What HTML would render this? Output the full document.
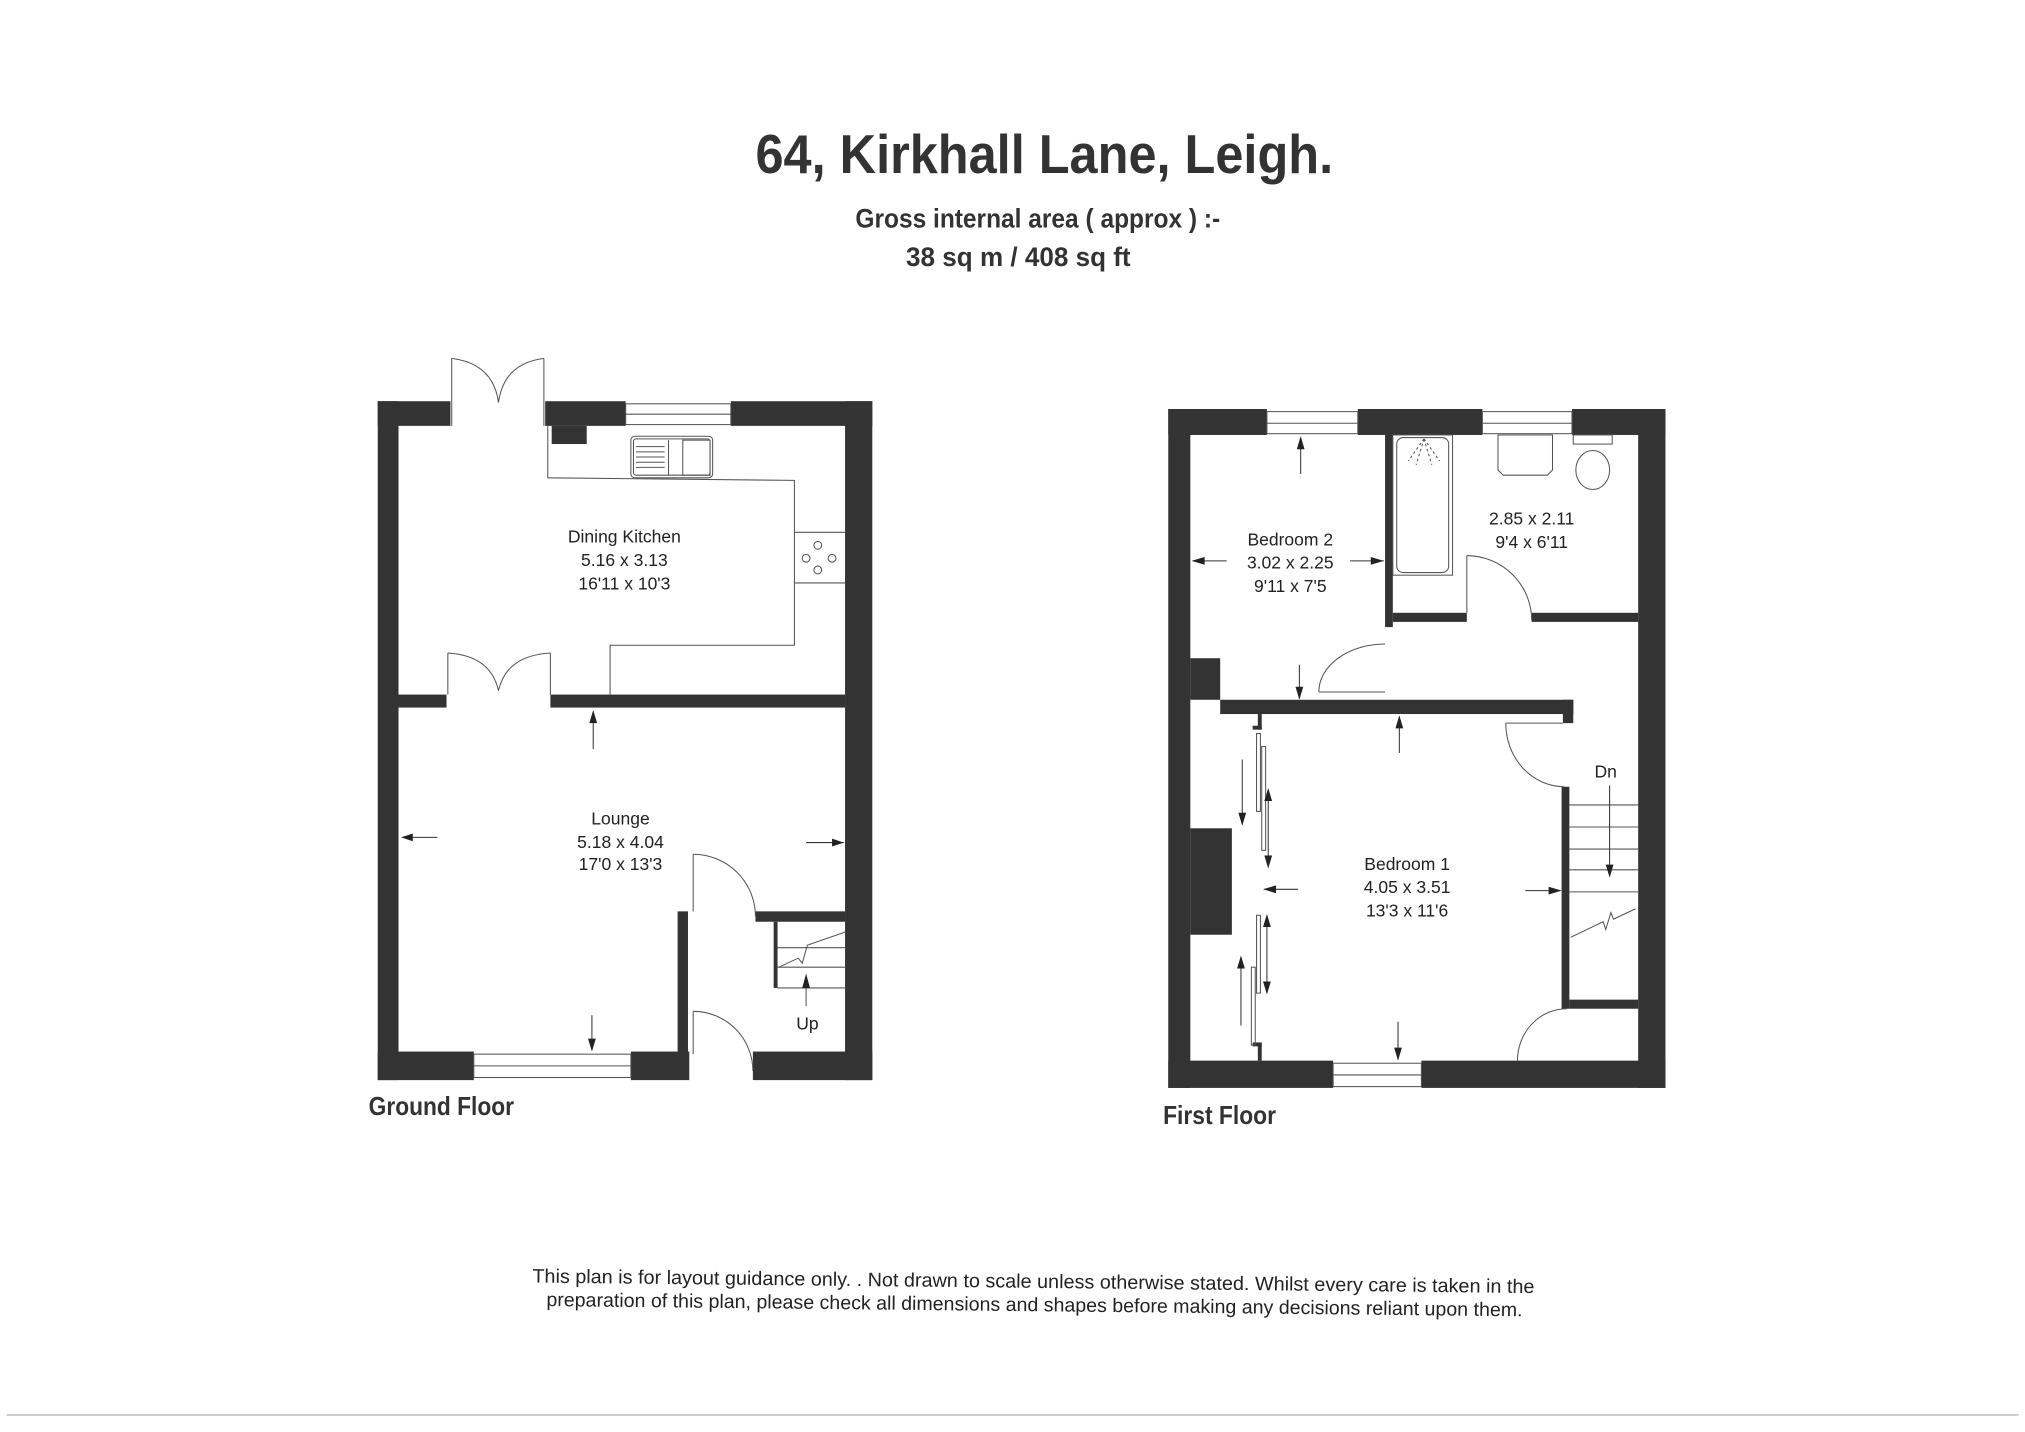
<!DOCTYPE html>
<html><head><meta charset="utf-8"><style>
html,body{margin:0;padding:0;background:#fff;}
svg{display:block;}
text{font-family:"Liberation Sans",sans-serif;fill:#222;}
.n{font-family:"Liberation Sans Narrow","Liberation Sans",sans-serif;font-weight:bold;fill:#333;}
</style></head><body>
<svg width="2025" height="1432" viewBox="0 0 1560 1103" xmlns="http://www.w3.org/2000/svg">
<rect width="1560" height="1103" fill="#fff"/>
<text class="n" x="582" y="133" font-size="42" textLength="445" lengthAdjust="spacingAndGlyphs">64, Kirkhall Lane, Leigh.</text>
<text class="n" x="659" y="175" font-size="21" textLength="281" lengthAdjust="spacingAndGlyphs">Gross internal area ( approx ) :-</text>
<text class="n" x="698" y="205" font-size="21" textLength="173" lengthAdjust="spacingAndGlyphs">38 sq m  /  408 sq ft</text>

<!-- GROUND FLOOR -->
<g fill="#333">
<rect x="291" y="309" width="56" height="19"/>
<rect x="291" y="309" width="16" height="523"/>
<rect x="420" y="309" width="62" height="19"/>
<rect x="425" y="328" width="27" height="14"/>
<rect x="563" y="309" width="109" height="19"/>
<rect x="651" y="309" width="21" height="523"/>
<rect x="291" y="810" width="74" height="22"/>
<rect x="486" y="810" width="45" height="22"/>
<rect x="580" y="810" width="92" height="22"/>
<rect x="307" y="535" width="37" height="10"/>
<rect x="424" y="535" width="227" height="10"/>
<rect x="522" y="702" width="8" height="110"/>
<rect x="582" y="702" width="69" height="8"/>
<rect x="596" y="710" width="3" height="51"/>
</g>
<g fill="none" stroke="#555" stroke-width="0.8">
<rect x="365" y="812" width="121" height="18"/><line x1="365" y1="821" x2="486" y2="821"/>
<rect x="482" y="311" width="81" height="16"/><line x1="482" y1="319" x2="563" y2="319"/>
<polyline points="422,328 422,368 612,370 612,497 470,497 470,535"/>
<line x1="612" y1="410" x2="651" y2="410"/><line x1="612" y1="449" x2="651" y2="449"/>
<rect x="486" y="336" width="63" height="32" rx="3"/><rect x="488" y="338" width="59" height="28" rx="2"/>
<line x1="515" y1="339" x2="515" y2="366"/>
<line x1="490" y1="344" x2="512" y2="344"/><line x1="490" y1="348" x2="512" y2="348"/><line x1="490" y1="352" x2="512" y2="352"/><line x1="490" y1="356" x2="512" y2="356"/><line x1="490" y1="360" x2="512" y2="360"/>
<rect x="526" y="339" width="21" height="27"/>
<circle cx="630" cy="420" r="3"/><circle cx="621" cy="430" r="3"/><circle cx="641" cy="430" r="3"/><circle cx="630" cy="439" r="3"/>
<line x1="348" y1="276" x2="348" y2="328"/><line x1="419" y1="276" x2="419" y2="328"/>
<path d="M348 276 Q380 280 384 310 Q388 280 419 276"/>
<line x1="345" y1="503" x2="345" y2="535"/><line x1="424" y1="503" x2="424" y2="535"/>
<path d="M345 503 Q378 505 384 532 Q390 505 424 503"/>
<line x1="534" y1="658" x2="534" y2="702"/><path d="M534 658 A48 48 0 0 1 582 706"/>
<line x1="534" y1="779" x2="534" y2="812"/><path d="M534 779 A46 46 0 0 1 580 825"/>
<line x1="599" y1="730" x2="651" y2="730"/><line x1="599" y1="745" x2="651" y2="745"/><line x1="599" y1="761" x2="651" y2="761"/>
<polyline points="600,745 615,738 618,742 622,728 651,718"/>
<line x1="621" y1="761" x2="621" y2="775"/>
</g>
<g fill="#222">
<polygon points="621,750 618,761 624,761"/>
<line x1="457" y1="548" x2="457" y2="577" stroke="#333" stroke-width="0.8"/><polygon points="457,547 454,557 460,557"/>
<line x1="310" y1="645" x2="337" y2="645" stroke="#333" stroke-width="0.8"/><polygon points="309,645 318,642 318,648"/>
<line x1="621" y1="649" x2="650" y2="649" stroke="#333" stroke-width="0.8"/><polygon points="650,649 641,646 641,652"/>
<line x1="456" y1="782" x2="456" y2="809" stroke="#333" stroke-width="0.8"/><polygon points="456,810 453,800 459,800"/>
</g>
<g font-size="13.5" text-anchor="middle">
<text x="481" y="418">Dining Kitchen</text><text x="481" y="436">5.16 x 3.13</text><text x="481" y="454">16'11 x 10'3</text>
<text x="478" y="635">Lounge</text><text x="478" y="653">5.18 x 4.04</text><text x="478" y="670">17'0 x 13'3</text>
<text x="622" y="793">Up</text>
</g>
<text class="n" x="284" y="859" font-size="20" textLength="112" lengthAdjust="spacingAndGlyphs">Ground Floor</text>

<!-- FIRST FLOOR -->
<g fill="#333">
<rect x="900" y="315" width="76" height="20"/>
<rect x="1046" y="315" width="96" height="20"/>
<rect x="1211" y="315" width="72" height="20"/>
<rect x="900" y="315" width="17" height="523"/>
<rect x="1262" y="315" width="21" height="523"/>
<rect x="900" y="817" width="127" height="21"/>
<rect x="1095" y="817" width="188" height="21"/>
<rect x="917" y="507" width="23" height="32"/>
<rect x="917" y="638" width="32" height="82"/>
<rect x="940" y="539" width="272" height="11"/>
<rect x="1204" y="539" width="8" height="18"/>
<rect x="1067" y="335" width="6" height="148"/>
<rect x="1073" y="472" width="57" height="7"/>
<rect x="1180" y="472" width="82" height="7"/>
<rect x="1203" y="606" width="6" height="171"/>
<rect x="1209" y="770" width="53" height="7"/>
<rect x="969" y="550" width="3" height="12"/><rect x="965" y="559" width="7" height="3"/>
<rect x="969" y="803" width="3" height="14"/><rect x="965" y="803" width="7" height="3"/>
</g>
<g fill="none" stroke="#555" stroke-width="0.8">
<rect x="976" y="317" width="70" height="17"/><line x1="976" y1="326" x2="1046" y2="326"/>
<rect x="1142" y="317" width="69" height="17"/><line x1="1142" y1="326" x2="1211" y2="326"/>
<rect x="1027" y="819" width="68" height="18"/><line x1="1027" y1="828" x2="1095" y2="828"/>
<rect x="1073" y="335" width="46" height="108"/>
<rect x="1076" y="337" width="40" height="104" rx="5"/>
<path d="M1097 338 L1085 355 M1097 338 L1091 358 M1097 338 L1103 358 M1097 338 L1109 355" stroke-dasharray="2,2"/>
<path d="M1154 335 L1196 335 L1196 362 L1192 366 L1158 366 L1154 362 Z"/>
<rect x="1212" y="335" width="30" height="7"/>
<ellipse cx="1227" cy="362" rx="13" ry="15"/>
<line x1="1130" y1="428" x2="1130" y2="472"/><path d="M1130 428 A50 50 0 0 1 1180 478"/>
<line x1="1016" y1="533" x2="1067" y2="533"/><path d="M1016 533 A51 37 0 0 1 1067 496"/>
<line x1="1160" y1="557" x2="1204" y2="557"/><path d="M1160 557 A45 49 0 0 0 1205 606"/>
<path d="M1169 817 A38 40 0 0 1 1207 777"/>
<line x1="1209" y1="620" x2="1262" y2="620"/><line x1="1209" y1="637" x2="1262" y2="637"/><line x1="1209" y1="654" x2="1262" y2="654"/><line x1="1209" y1="670" x2="1262" y2="670"/><line x1="1209" y1="687" x2="1262" y2="687"/>
<polyline points="1210,722 1235,710 1237,716 1241,703 1243,708 1260,700"/>
<rect x="972" y="575" width="3" height="80"/><rect x="968" y="565" width="3" height="60"/>
<rect x="968" y="705" width="3" height="60"/><rect x="964" y="745" width="3" height="60"/>
</g>
<g stroke="#333" stroke-width="0.8" fill="#222">
<line x1="1002" y1="337" x2="1002" y2="365"/><polygon points="1002,336 999,346 1005,346" stroke="none"/>
<line x1="919" y1="432" x2="945" y2="432"/><polygon points="918,432 928,429 928,435" stroke="none"/>
<line x1="1040" y1="432" x2="1066" y2="432"/><polygon points="1066,432 1056,429 1056,435" stroke="none"/>
<line x1="1001" y1="512" x2="1001" y2="538"/><polygon points="1001,539 998,529 1004,529" stroke="none"/>
<line x1="1078" y1="552" x2="1078" y2="580"/><polygon points="1078,551 1075,561 1081,561" stroke="none"/>
<line x1="1077" y1="787" x2="1077" y2="816"/><polygon points="1077,817 1074,807 1080,807" stroke="none"/>
<line x1="1175" y1="686" x2="1202" y2="686"/><polygon points="1203,686 1193,683 1193,689" stroke="none"/>
<line x1="974" y1="685" x2="1000" y2="685"/><polygon points="973,685 983,682 983,688" stroke="none"/>
<line x1="957" y1="585" x2="957" y2="635"/><polygon points="957,636 954,626 960,626" stroke="none"/>
<line x1="977" y1="609" x2="977" y2="667"/><polygon points="977,607 974,617 980,617" stroke="none"/><polygon points="977,669 974,659 980,659" stroke="none"/>
<line x1="976" y1="706" x2="976" y2="764"/><polygon points="976,704 973,714 979,714" stroke="none"/><polygon points="976,766 973,756 979,756" stroke="none"/>
<line x1="956" y1="738" x2="956" y2="790"/><polygon points="956,736 953,746 959,746" stroke="none"/>
<line x1="1240" y1="605" x2="1240" y2="675"/><polygon points="1240,676 1237,666 1243,666" stroke="none"/>
</g>
<g font-size="13.5" text-anchor="middle">
<text x="994" y="420">Bedroom 2</text><text x="994" y="438">3.02 x 2.25</text><text x="994" y="456">9'11 x 7'5</text>
<text x="1180" y="404">2.85 x 2.11</text><text x="1180" y="422">9'4 x 6'11</text>
<text x="1084" y="670">Bedroom 1</text><text x="1084" y="688">4.05 x 3.51</text><text x="1084" y="706">13'3 x 11'6</text>
<text x="1237" y="599">Dn</text>
</g>
<text class="n" x="896" y="866" font-size="20" textLength="87" lengthAdjust="spacingAndGlyphs">First Floor</text>

<g transform="rotate(0.6 796 1000)" font-size="15" text-anchor="middle">
<text x="796" y="992" textLength="772" lengthAdjust="spacingAndGlyphs">This plan is for layout guidance only. . Not drawn to scale unless otherwise stated.  Whilst every care is taken in the</text>
<text x="797" y="1010" textLength="752" lengthAdjust="spacingAndGlyphs">preparation of this plan, please check all dimensions and shapes before making any decisions reliant upon them.</text>
</g>
<line x1="5" y1="1090" x2="1555" y2="1090" stroke="#ccc" stroke-width="1.5"/>
</svg>
</body></html>
